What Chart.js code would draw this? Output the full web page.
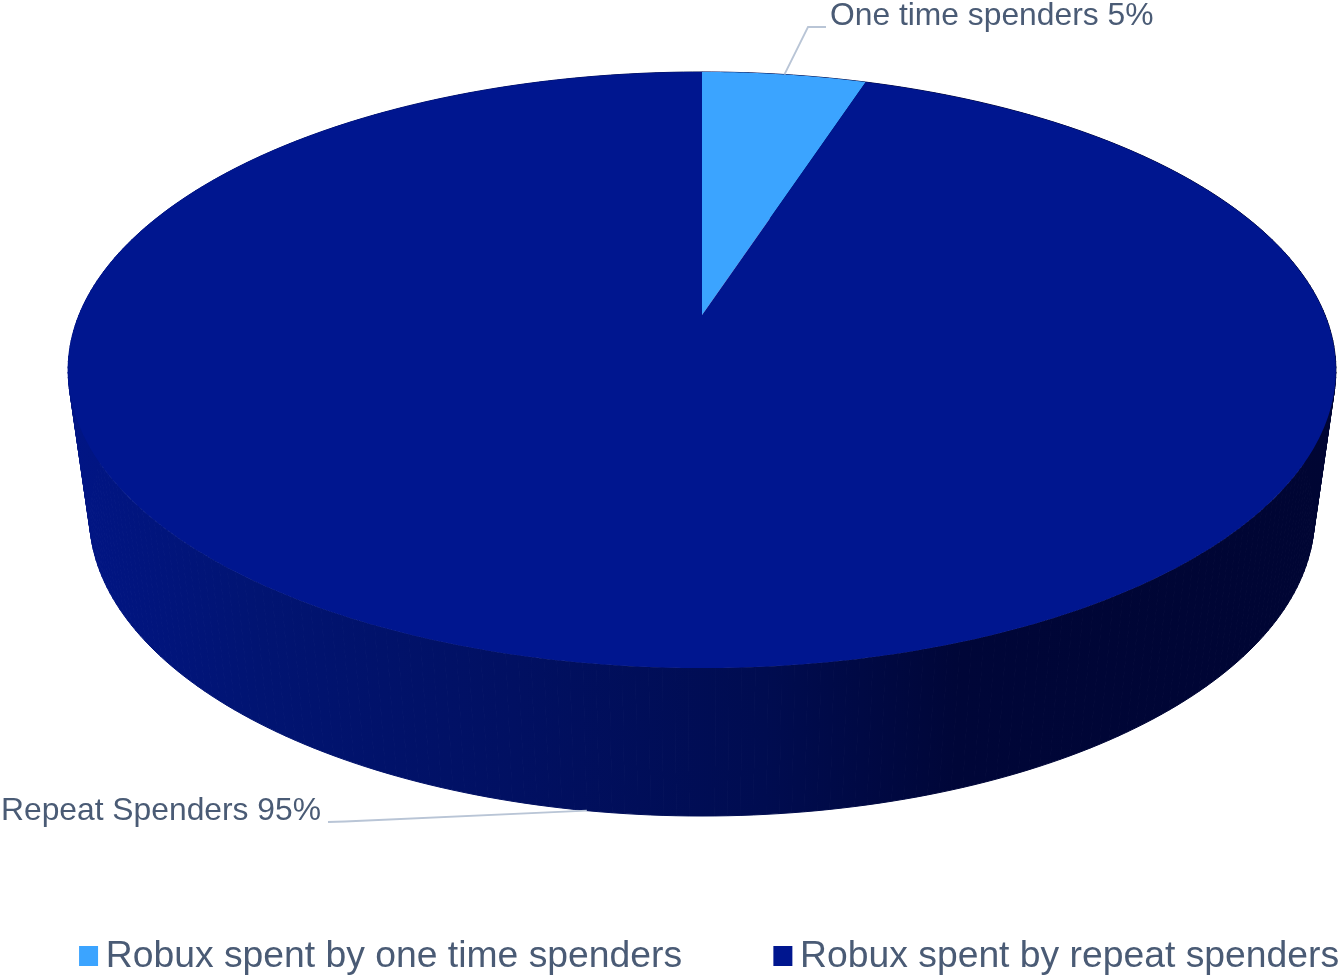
<!DOCTYPE html>
<html lang="en">

<head>
  <meta charset="UTF-8">
  <title>Robux spending</title>
  <style>
    body {
      margin: 0;
      background-color: #fff;
      overflow: hidden;
    }

    #wrap {
      width: 1338px;
      height: 977px;
      overflow: hidden;
    }

    canvas {
      display: block;
    }
  </style>
</head>

<body>
  <div id="wrap">
    <canvas id="chart" width="1500" height="985"></canvas>
  </div>

  <script src="https://cdn.jsdelivr.net/npm/chart.js"></script>

  <script>
    const legendNames = ['Robux spent by one time spenders', 'Robux spent by repeat spenders'];
    const sliceNames = ['One time spenders', 'Repeat Spenders'];
    const shares = [5, 95];
    const sliceColors = ['#3ba4ff', '#00168f'];

    const textColor = '#4a5b75';
    const leaderColor = '#b9c5d6';
    const fontFamily = '"Liberation Sans", Arial, sans-serif';

    // Perspective of the disc: rim positions for the upper and lower face
    const centerX = 702;
    const topFace = { x: 623, y: 287.9, originY: 315, k: 0.1846 };
    const bottomFace = { x: 602, y: 289.8, originY: 460.6, k: 0.1846 };

    function rimPoint(face, angle) {
      const u = Math.cos(angle);
      const v = Math.sin(angle);
      const w = 1 - face.k * v;
      return { x: centerX + face.x * u / w, y: face.originY + face.y * v / w };
    }

    function wallGradient(ctx) {
      const g = ctx.createLinearGradient(68, 0, 1337, 0);
      g.addColorStop(0, '#011585');
      g.addColorStop(0.15, '#011472');
      g.addColorStop(0.35, '#011062');
      g.addColorStop(0.55, '#000c50');
      g.addColorStop(0.7, '#000638');
      g.addColorStop(1, '#000533');
      return g;
    }

    function drawWall(ctx, arc, fill) {
      const step = Math.PI / 180;
      ctx.fillStyle = fill;
      ctx.strokeStyle = fill;
      ctx.lineWidth = 1;
      for (let a = arc.startAngle; a < arc.endAngle; a += step) {
        const next = Math.min(a + step, arc.endAngle);
        const p1 = rimPoint(topFace, a);
        const p2 = rimPoint(topFace, next);
        const p3 = rimPoint(bottomFace, next);
        const p4 = rimPoint(bottomFace, a);
        ctx.beginPath();
        ctx.moveTo(p1.x, p1.y);
        ctx.lineTo(p2.x, p2.y);
        ctx.lineTo(p3.x, p3.y);
        ctx.lineTo(p4.x, p4.y);
        ctx.closePath();
        ctx.fill();
        ctx.stroke();
      }
    }

    function drawTop(ctx, arc) {
      const step = Math.PI / 360;
      ctx.fillStyle = arc.options.backgroundColor;
      ctx.beginPath();
      ctx.moveTo(centerX, topFace.originY);
      for (let a = arc.startAngle; a < arc.endAngle; a += step) {
        const p = rimPoint(topFace, a);
        ctx.lineTo(p.x, p.y);
      }
      const end = rimPoint(topFace, arc.endAngle);
      ctx.lineTo(end.x, end.y);
      ctx.closePath();
      ctx.fill();
    }

    function drawLeader(ctx, points) {
      ctx.strokeStyle = leaderColor;
      ctx.lineWidth = 1.8;
      ctx.beginPath();
      points.forEach((p, i) => (i ? ctx.lineTo(p.x, p.y) : ctx.moveTo(p.x, p.y)));
      ctx.stroke();
    }

    // Replaces the flat arcs with an extruded disc, using the angles Chart.js worked out
    const discPlugin = {
      id: 'disc',
      beforeDatasetsDraw(chart) {
        const ctx = chart.ctx;
        const arcs = chart.getDatasetMeta(0).data;
        const mid = (arc) => (arc.startAngle + arc.endAngle) / 2;

        ctx.save();
        const wall = wallGradient(ctx);
        arcs.forEach((arc) => drawWall(ctx, arc, wall));
        arcs.forEach((arc) => drawTop(ctx, arc));

        const a0 = rimPoint(topFace, mid(arcs[0]));
        const a1 = rimPoint(bottomFace, mid(arcs[1]));
        drawLeader(ctx, [a0, { x: 808, y: 27 }, { x: 826, y: 27 }]);
        drawLeader(ctx, [a1, { x: 345, y: 821.5 }, { x: 328, y: 822 }]);

        ctx.fillStyle = textColor;
        ctx.font = '31.8px ' + fontFamily;
        ctx.textBaseline = 'middle';
        ctx.textAlign = 'left';
        ctx.fillText(sliceNames[0] + ' ' + shares[0] + '%', 830, 16);
        ctx.fillText(sliceNames[1] + ' ' + shares[1] + '%', 1, 811);
        ctx.restore();
        return false;
      }
    };

    // Legend marker wider than the slot Chart.js reserves, keeps the text close to the box
    function legendSwatch(color) {
      const c = document.createElement('canvas');
      c.width = 24;
      c.height = 20;
      const g = c.getContext('2d');
      g.fillStyle = color;
      g.fillRect(4, 0, 19, 20);
      return c;
    }

    new Chart(document.getElementById('chart'), {
      type: 'pie',
      data: {
        labels: legendNames,
        datasets: [{
          data: shares,
          backgroundColor: sliceColors,
          borderWidth: 0
        }]
      },
      options: {
        responsive: false,
        animation: false,
        events: [],
        layout: { padding: { left: -12.2 } },
        plugins: {
          tooltip: { enabled: false },
          legend: {
            position: 'bottom',
            align: 'start',
            labels: {
              usePointStyle: true,
              pointStyleWidth: 0.1,
              padding: 99.2,
              color: textColor,
              font: { size: 37.3, family: fontFamily },
              generateLabels: () => legendNames.map((name, i) => ({
                text: name,
                fontColor: textColor,
                pointStyle: legendSwatch(sliceColors[i]),
                lineWidth: 0,
                index: i
              }))
            }
          }
        }
      },
      plugins: [discPlugin]
    });
  </script>
</body>

</html>
